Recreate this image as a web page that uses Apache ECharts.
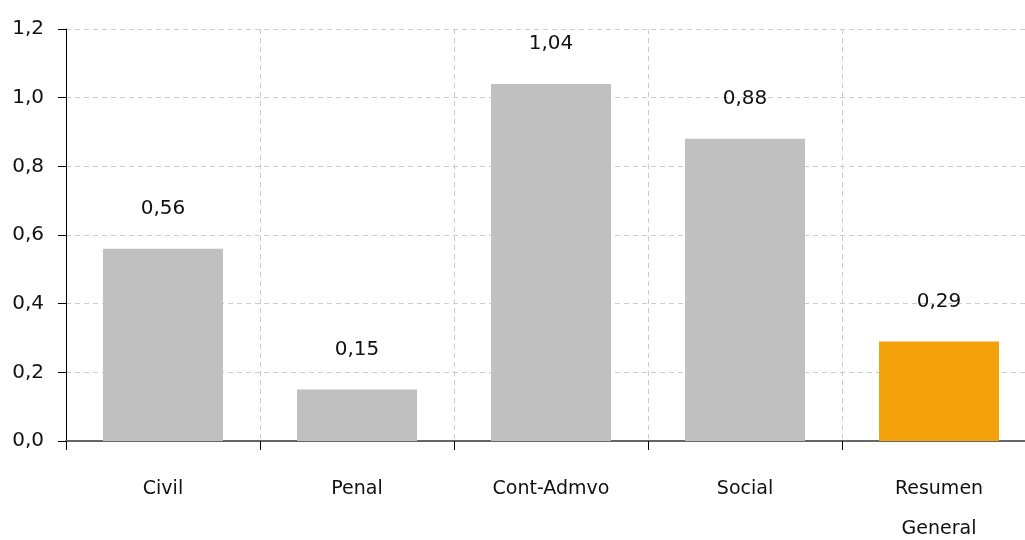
<!DOCTYPE html>
<html><head><meta charset="utf-8">
<script src="https://cdn.jsdelivr.net/npm/echarts@6/dist/echarts.min.js"></script>
<style>html,body{margin:0;padding:0;background:#fff}#c{width:1025px;height:540px}</style>
</head><body><div id="c"></div>
<script>
const categories = ['Civil', 'Penal', 'Cont-Admvo', 'Social', 'Resumen\nGeneral'];
const values = [0.56, 0.15, 1.04, 0.88, 0.29];
const barColors = ['#c0c0c0', '#c0c0c0', '#c0c0c0', '#c0c0c0', '#f5a30c'];
const fmt = v => v.toFixed(2).replace('.', ',');
const chart = echarts.init(document.getElementById('c'));
const font = 'DejaVu Sans';
chart.setOption({
  animation: false,
  grid: { left: 66, top: 29, width: 970, height: 412, containLabel: false, outerBoundsMode: 'none' },
  xAxis: {
    type: 'category', data: categories,
    axisLine: { lineStyle: { color: '#666', width: 2 } },
    axisTick: { show: true, length: 9, lineStyle: { color: '#000' } },
    axisLabel: { color: '#111', fontFamily: font, fontSize: 19, margin: 28, lineHeight: 40 },
    splitLine: { show: true, lineStyle: { color: '#ccc', type: [5, 4] } }
  },
  yAxis: {
    type: 'value', min: 0, max: 1.2, interval: 0.2,
    axisLine: { show: true, lineStyle: { color: '#000', width: 1 } },
    axisTick: { show: true, length: 8, lineStyle: { color: '#000' } },
    axisLabel: { color: '#111', fontFamily: font, fontSize: 20, margin: 22,
      formatter: v => v.toFixed(1).replace('.', ',') },
    splitLine: { show: true, lineStyle: { color: '#ccc', type: [5, 4] } }
  },
  series: [{
    type: 'bar', barWidth: 120,
    data: values.map((v, i) => ({ value: v, itemStyle: { color: barColors[i] } })),
    label: { show: true, position: 'top', distance: 30, color: '#111', fontFamily: font, fontSize: 20,
      formatter: p => fmt(p.value) }
  }]
});
</script></body></html>
